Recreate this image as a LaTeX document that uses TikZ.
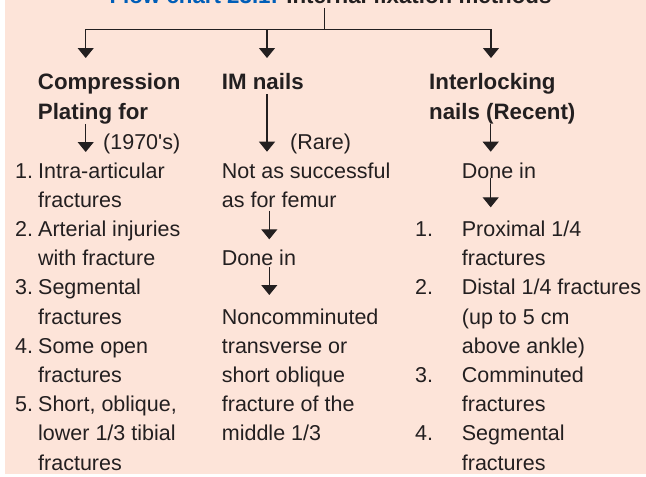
\documentclass[tikz,border=0pt]{standalone}
\usepackage{fontspec}
\setmainfont{Liberation Sans}
\usetikzlibrary{arrows.meta}
\definecolor{bgpink}{RGB}{253,228,217}
\definecolor{fcblue}{RGB}{0,94,184}
\definecolor{ink}{RGB}{35,31,32}

\begin{document}
\begin{tikzpicture}[x=1pt,y=-1pt,txt/.style={anchor=base west,inner sep=0pt,align=left,text=ink,font=\fontsize{21.5}{29.2}\selectfont},hd/.style={txt,font=\fontsize{22.3}{29.7}\selectfont\bfseries},a/.style={-{Triangle[width=16pt,length=10pt]},draw=ink,line width=1.2pt}]
\useasboundingbox (0,0) rectangle (646,477);
\fill[bgpink] (5,0) rectangle (646,474);
% title, cut at the top edge
\node[hd,anchor=base] (title) at (330.5,3.3) {\textcolor{fcblue}{Flow chart 23.1:} Internal fixation methods};
\coordinate (j) at (324.3,29.3);
\coordinate (t1) at (85.7,58); \coordinate (t2) at (267,58); \coordinate (t3) at (491,58);
\draw[ink,line width=1.2pt] ([yshift=-4pt]title.south -| j)--(j);
\draw[a] (j)-|(t1); \draw[a] (j)-|(t3); \draw[a] (t2 |- j)--(t2);
% headings (base = last line)
\node[hd] (cp) at (37.7,119) {Compression\\Plating for};
\node[hd] (im) at (221.7,89.3) {IM nails};
\node[hd] (il) at (429,119) {Interlocking\\nails (Recent)};
% compression plating
\coordinate (p1) at (85.7,152);
\draw[a] (cp.south -| p1)--(p1);
\node[txt] (yr) at (103,149) {(1970\textquotesingle s)};
\node[txt] (n11) at (15,178) {1.}; \node[txt] (c11) at (38,207.2) {Intra-articular\\fractures};
\node[txt] (n12) at (15,236.4) {2.}; \node[txt] (c12) at (38,265.6) {Arterial injuries\\with fracture};
\node[txt] (n13) at (15,294.8) {3.}; \node[txt] (c13) at (38,324) {Segmental\\fractures};
\node[txt] (n14) at (15,353.2) {4.}; \node[txt] (c14) at (38,382.4) {Some open\\fractures};
\node[txt] (n15) at (15,411.6) {5.}; \node[txt] (c15) at (38,470) {Short, oblique,\\lower 1/3 tibial\\fractures};
% IM nails
\coordinate (m1) at (267,151.7); \coordinate (m2) at (269.3,239.3); \coordinate (m3) at (269.3,295);
\draw[a] ([yshift=-4.7pt]im.south -| m1)--(m1);
\node[txt] (rare) at (290,149) {(Rare)};
\node[txt] (ns) at (221.7,207.2) {Not as successful\\as for femur};
\draw[a] ([yshift=-3pt]ns.south -| m2)--(m2);
\node[txt] (dn2) at (221.7,265.6) {Done in};
\draw[a] ([yshift=-1pt]dn2.south -| m3)--(m3);
\node[txt] (nc) at (221.7,440.8) {Noncomminuted\\transverse or\\short oblique\\fracture of the\\middle 1/3};
% interlocking nails
\coordinate (r1) at (490.7,151.7); \coordinate (r2) at (490.7,207.3);
\draw[a] (il.south -| r1)--(r1);
\node[txt] (dn3) at (461.7,178) {Done in};
\draw[a] (dn3.south -| r2)--(r2);
\node[txt] (n31) at (415,236.4) {1.}; \node[txt] (c31) at (461.7,265.6) {Proximal 1/4\\fractures};
\node[txt] (n32) at (415,294.8) {2.}; \node[txt] (c32) at (461.7,353.2) {Distal 1/4 fractures\\(up to 5 cm\\above ankle)};
\node[txt] (n33) at (415,382.4) {3.}; \node[txt] (c33) at (461.7,411.6) {Comminuted\\fractures};
\node[txt] (n34) at (415,440.8) {4.}; \node[txt] (c34) at (461.7,470) {Segmental\\fractures};
\end{tikzpicture}
\end{document}
